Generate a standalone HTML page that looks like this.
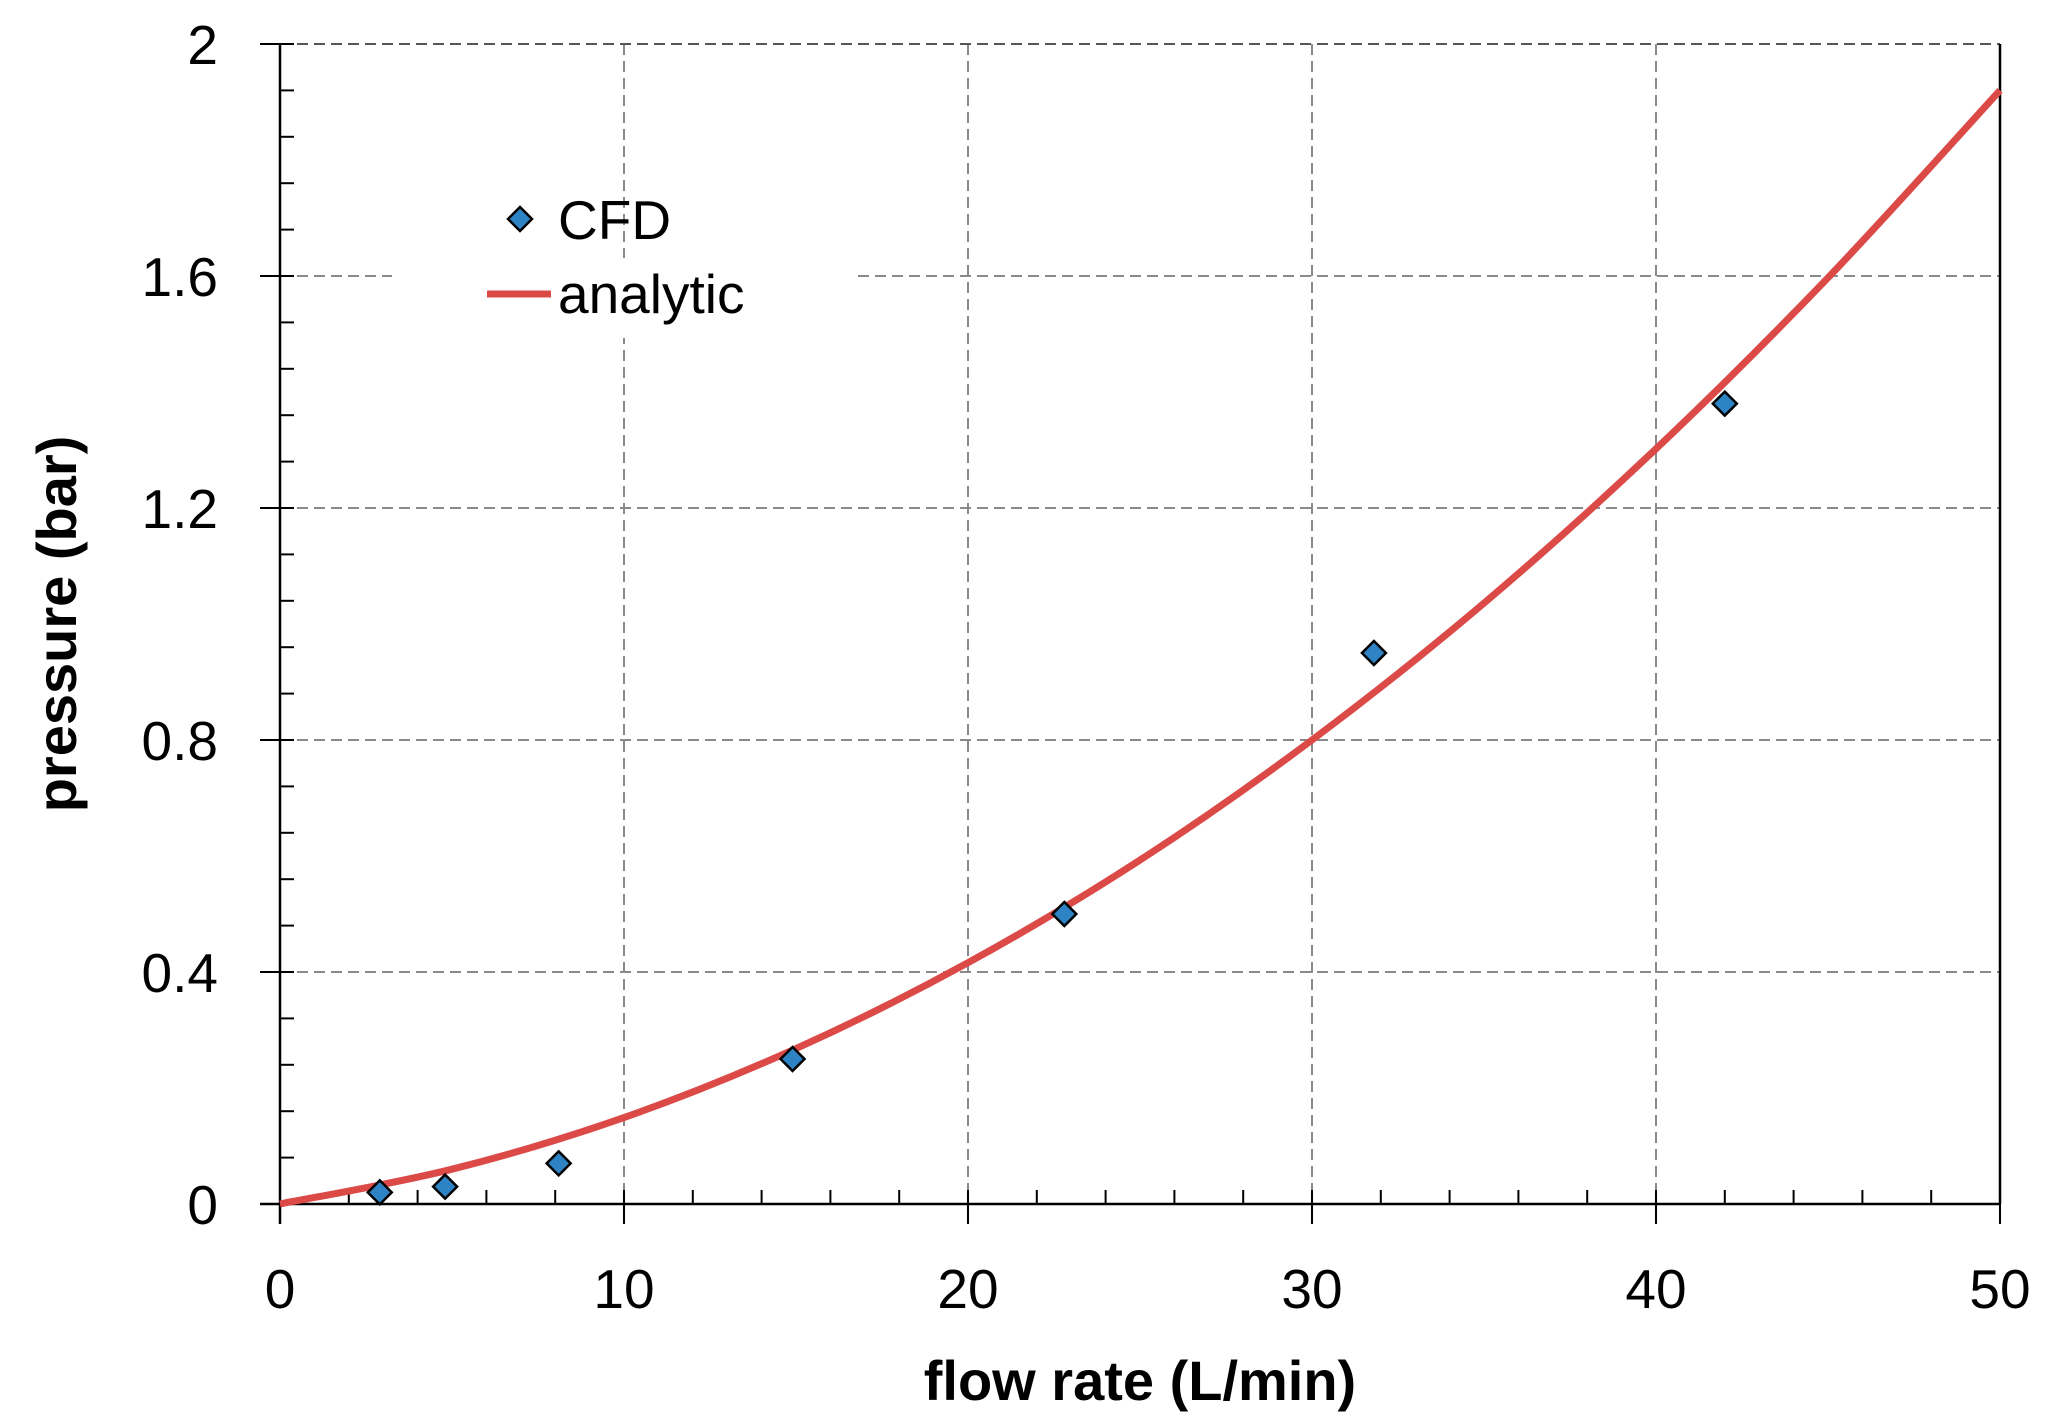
<!DOCTYPE html>
<html><head><meta charset="utf-8"><style>
html,body{margin:0;padding:0;background:#fff;}
svg{display:block;font-family:"Liberation Sans",sans-serif;}
</style></head><body>
<svg id="chart" width="2047" height="1427" viewBox="0 0 2047 1427">
<g id="grid"></g>
<rect x="392" y="258" width="463" height="80" fill="#fff"/>
<g id="axes"></g>
<g id="series"></g>
<g>
  <g>
    <path d="M520,207 L532,219 L520,231 L508,219 Z" fill="#2e83c4" stroke="#000" stroke-width="2.5"/>
    <text x="558" y="239" font-size="55" fill="#000">CFD</text>
  </g>
  <g>
    <line x1="487" y1="294" x2="551" y2="294" stroke="#dc4a48" stroke-width="7"/>
    <text x="558" y="313" font-size="55" fill="#000">analytic</text>
  </g>
</g>
<text x="1140" y="1400" font-size="56" font-weight="bold" text-anchor="middle">flow rate (L/min)</text>
<text transform="translate(76,624) rotate(-90)" font-size="56" font-weight="bold" text-anchor="middle">pressure (bar)</text>
</svg>
<script>
const xTicks = [0, 10, 20, 30, 40, 50];
const yTicks = [0, 0.4, 0.8, 1.2, 1.6, 2];
const yTickLabels = ["0", "0.4", "0.8", "1.2", "1.6", "2"];
const cfdX = [2.9, 4.8, 8.1, 14.9, 22.8, 31.8, 42.0];
const cfdY = [0.02, 0.03, 0.07, 0.25, 0.50, 0.95, 1.38];
const analyticX = [0, 5, 10, 15, 20, 25, 30, 35, 40, 45, 50];
const analyticY = [0, 0.060, 0.149, 0.268, 0.416, 0.593, 0.800, 1.036, 1.302, 1.597, 1.920];

const L = 280, R = 2000, T = 44, B = 1204;
const xs = v => L + (v - 0) / 50 * (R - L);
const ys = v => B - (v - 0) / 2 * (B - T);
const NS = "http://www.w3.org/2000/svg";
function mk(tag, attrs, parent) {
  const e = document.createElementNS(NS, tag);
  for (const k in attrs) e.setAttribute(k, attrs[k]);
  parent.appendChild(e);
  return e;
}
const grid = document.getElementById('grid');
const axes = document.getElementById('axes');
const series = document.getElementById('series');

xTicks.forEach((t, i) => {
  if (t > 0) {
    const g = mk('line', {x1: xs(t), x2: xs(t), y1: T, y2: B, stroke: '#8a8a8a', 'stroke-width': 2, 'stroke-dasharray': '11,6'}, grid);
    
    
  }
  const tk = mk('line', {x1: xs(t), x2: xs(t), y1: B - 14, y2: B + 20, stroke: '#000', 'stroke-width': 2}, axes);
  
  
  const lb = mk('text', {x: xs(t), y: 1308, 'font-size': 55, 'text-anchor': 'middle'}, axes);
  lb.textContent = String(t);
  
  
});
for (let v = 2; v < 50; v += 2) {
  if (v % 10 === 0) continue;
  const tk = mk('line', {x1: xs(v), x2: xs(v), y1: B - 14, y2: B, stroke: '#000', 'stroke-width': 2}, axes);
  
  
}
yTicks.forEach((t, i) => {
  if (t > 0) {
    const g = mk('line', {x1: L, x2: R, y1: ys(t), y2: ys(t), stroke: t === 2 ? '#555' : '#8a8a8a', 'stroke-width': 2, 'stroke-dasharray': '11,6'}, grid);
    
    
  }
  const tk = mk('line', {x1: L - 20, x2: L + 14, y1: ys(t), y2: ys(t), stroke: '#000', 'stroke-width': 2}, axes);
  
  
  const lb = mk('text', {x: 218, y: ys(t) + 20, 'font-size': 55, 'text-anchor': 'end'}, axes);
  lb.textContent = yTickLabels[i];
  
  
});
for (let k = 1; k < 25; k++) {
  if (k % 5 === 0) continue;
  const v = k * 0.08;
  const tk = mk('line', {x1: L, x2: L + 14, y1: ys(v), y2: ys(v), stroke: '#000', 'stroke-width': 2}, axes);
  
  
}
const ax = mk('line', {x1: L, x2: L, y1: T, y2: B + 20, stroke: '#000', 'stroke-width': 2.5}, axes);


const bx = mk('line', {x1: L - 20, x2: R, y1: B, y2: B, stroke: '#000', 'stroke-width': 2.5}, axes);


const rx = mk('line', {x1: R, x2: R, y1: T, y2: B, stroke: '#000', 'stroke-width': 2.5}, axes);



const pts = analyticX.map((x, i) => [xs(x), ys(analyticY[i])]);
let d = `M${pts[0][0]},${pts[0][1]}`;
for (let i = 0; i < pts.length - 1; i++) {
  const p0 = pts[Math.max(0, i - 1)], p1 = pts[i], p2 = pts[i + 1], p3 = pts[Math.min(pts.length - 1, i + 2)];
  const c1 = [p1[0] + (p2[0] - p0[0]) / 6, p1[1] + (p2[1] - p0[1]) / 6];
  const c2 = [p2[0] - (p3[0] - p1[0]) / 6, p2[1] - (p3[1] - p1[1]) / 6];
  d += ` C${c1[0]},${c1[1]} ${c2[0]},${c2[1]} ${p2[0]},${p2[1]}`;
}
const curve = mk('path', {d: d, fill: 'none', stroke: '#dc4a48', 'stroke-width': 7}, series);



cfdX.forEach((x, i) => {
  const cx = xs(x), cy = ys(cfdY[i]), r = 12;
  const m = mk('path', {d: `M${cx},${cy - r} L${cx + r},${cy} L${cx},${cy + r} L${cx - r},${cy} Z`, fill: '#2e83c4', stroke: '#000', 'stroke-width': 2.5}, series);
  
  
});
</script>
</body></html>
